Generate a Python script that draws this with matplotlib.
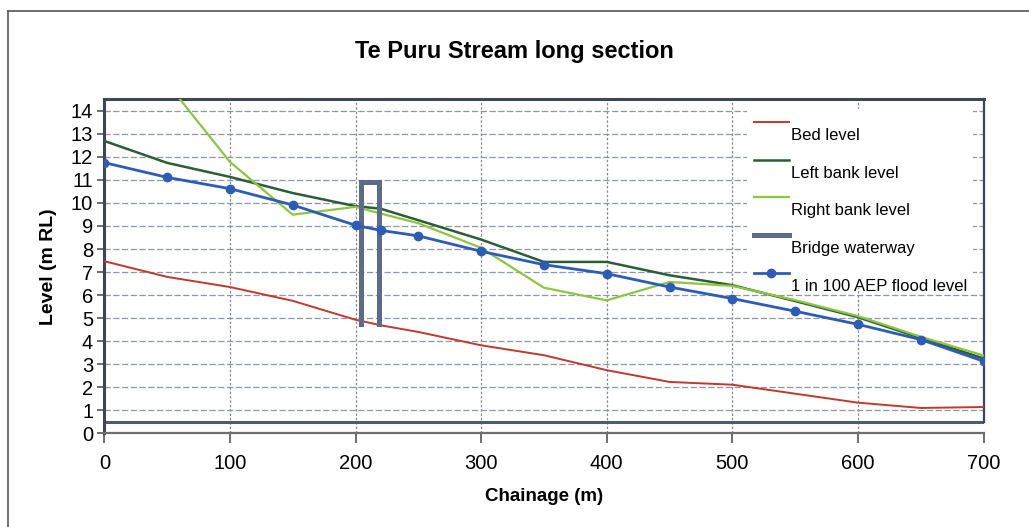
import numpy as np
import matplotlib.pyplot as plt
from matplotlib.lines import Line2D

plt.rcParams['font.family'] = ['Liberation Sans', 'DejaVu Sans']

# chainage (m)
chainage = [0, 50, 100, 150, 200, 220, 250, 300, 350, 400, 450, 500, 550, 600, 650, 700]

bed = [7.47, 6.79, 6.35, 5.75, 4.93, 4.69, 4.40, 3.82, 3.39, 2.74, 2.23, 2.11, 1.72, 1.33, 1.10, 1.14]
left_bank = [12.69, 11.74, 11.13, 10.43, 9.86, 9.75, 9.25, 8.41, 7.44, 7.44, 6.86, 6.43, 5.74, 5.04, 4.14, 3.25]
right_bank = [18.6, 15.2, 11.78, 9.49, 9.83, 9.54, 9.12, 8.05, 6.32, 5.77, 6.57, 6.40, 5.78, 5.09, 4.19, 3.38]
flood = [11.75, 11.11, 10.62, 9.91, 9.03, 8.81, 8.57, 7.90, 7.32, 6.93, 6.35, 5.85, 5.30, 4.73, 4.07, 3.13]

# bridge waterway outline
bridge_x = [204, 204, 219, 219]
bridge_y = [4.75, 10.9, 10.9, 4.75]

fig = plt.figure(figsize=(10.29, 5.27), dpi=100)
ax = fig.add_axes([0.1014, 0.1778, 0.8544, 0.6338])

# gridlines
for v in range(1, 15):
    ax.axhline(v, color='#8d97a8', lw=0.9, ls=(0, (5, 2)), zorder=1)
for c in range(100, 700, 100):
    ax.plot([c, c], [0, 14.5], color='#8a8a8a', lw=0.9, ls=(0, (2, 1.5)), zorder=1)
ax.axhline(0.5, color='#4d5a70', lw=2.2, zorder=2)

ax.plot(chainage, bed, color='#c0392f', lw=1.4, label='Bed level', zorder=3)
ax.plot(chainage, left_bank, color='#2c5e35', lw=1.8, label='Left bank level', zorder=3)
ax.plot(chainage, right_bank, color='#8cc63e', lw=1.6, label='Right bank level', zorder=4)
ax.plot(bridge_x, bridge_y, color='#5d6b88', lw=3.6, label='Bridge waterway',
        solid_joinstyle='miter', zorder=5)
ax.plot(chainage, flood, color='#2c5cb8', lw=2.0, marker='o', ms=6,
        label='1 in 100 AEP flood level', zorder=6)

ax.set_xlim(0, 700)
ax.set_ylim(0, 14.5)
ax.set_xticks(range(0, 701, 100))
ax.set_yticks(range(0, 15))
ax.tick_params(axis='x', labelsize=14.5, direction='out', length=7, width=1.2,
               color='#555555', pad=8)
ax.tick_params(axis='y', labelsize=14.5, direction='out', length=5, width=1.2,
               color='#555555', pad=3)

for s in ['top', 'left']:
    ax.spines[s].set_linewidth(2.2)
    ax.spines[s].set_color('#3f4656')
ax.spines['right'].set_linewidth(1.6)
ax.spines['right'].set_color('#34456a')
ax.spines['right'].set_bounds(0.5, 14.5)
ax.spines['bottom'].set_linewidth(1.6)
ax.spines['bottom'].set_color('#6e6e6e')

ax.set_xlabel('Chainage (m)', fontsize=13.5, fontweight='bold', labelpad=11)
ax.set_ylabel('Level (m RL)', fontsize=14, fontweight='bold', labelpad=10)

fig.text(0.5, 0.903, 'Te Puru Stream long section', ha='center', va='center',
         fontsize=17, fontweight='bold')

leg = ax.legend(loc='upper right', bbox_to_anchor=(0.998, 0.995), frameon=True,
                framealpha=1, edgecolor='none', fancybox=False, fontsize=12,
                handlelength=2.1, handletextpad=0.1, labelspacing=1.36,
                borderpad=0.4)
leg.set_zorder(10)
for t in leg.get_texts():
    t.set_position((0, -12))

# outer border of the scanned figure
fig.add_artist(Line2D([8 / 1029, 8 / 1029], [0, 1 - 11 / 527], color='#555555', lw=1.2))
fig.add_artist(Line2D([8 / 1029, 1], [1 - 11 / 527, 1 - 11 / 527], color='#555555', lw=1.2))

fig.savefig('out.png', dpi=100)
